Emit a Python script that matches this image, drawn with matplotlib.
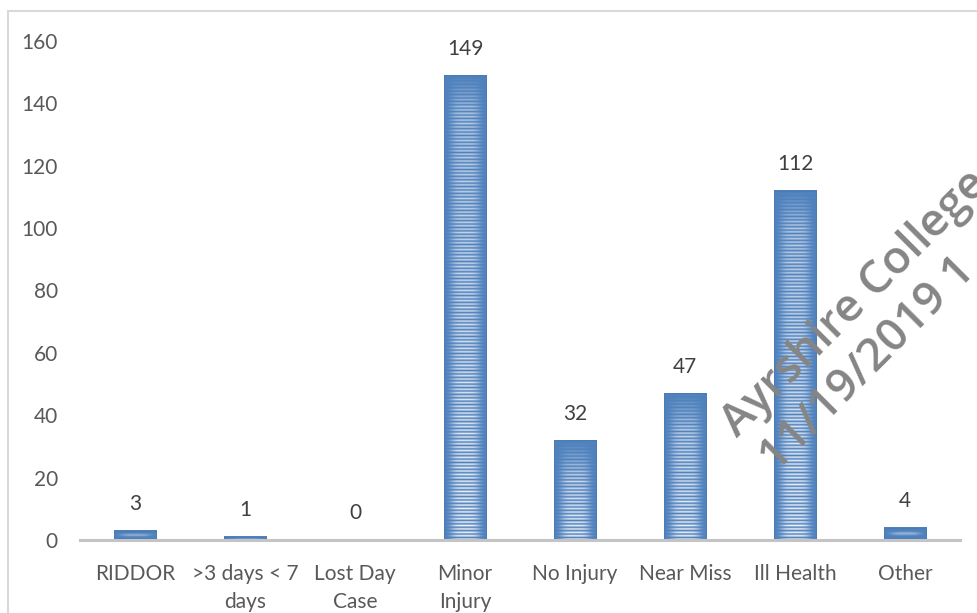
import numpy as np
import matplotlib
matplotlib.use("Agg")
import matplotlib.pyplot as plt
from matplotlib.patches import Rectangle

categories = ["RIDDOR", ">3 days < 7\ndays", "Lost Day\nCase", "Minor\nInjury",
              "No Injury", "Near Miss", "Ill Health", "Other"]
values = [3, 1, 0, 149, 32, 47, 112, 4]
y_ticks = [0, 20, 40, 60, 80, 100, 120, 140, 160]

plt.rcParams["font.family"] = ["Lato", "DejaVu Sans"]

W, H = 977, 613
fig = plt.figure(figsize=(W / 100, H / 100), dpi=100)
fig.patch.set_facecolor("white")

# outer chart border (runs off the right and bottom edges)
fig.patches.append(Rectangle((8 / W, -0.05), 1.1, (H - 11) / H + 0.05,
                             transform=fig.transFigure, fill=False,
                             edgecolor="#d9d9d9", linewidth=1.5, zorder=0))

ax = fig.add_axes([80 / W, (H - 540) / H, 880 / W, (540 - 41) / H])
ax.set_facecolor("none")

x = np.arange(len(categories))
bar_w = 0.39
base = np.array([0x4f, 0x81, 0xbd]) / 255.0
px_per_unit = (540 - 41) / 160.0

# striped gradient fill for each bar
for xi, v in zip(x, values):
    if v <= 0:
        continue
    hpx = v * px_per_unit
    ncols = 40
    cx = np.linspace(-1, 1, ncols)
    horiz = 0.92 * np.exp(-(cx / 0.7) ** 4)
    if hpx < 20:
        nrows = 5
        stripe = np.zeros(nrows)
        stripe[nrows // 2] = 0.45
        fade = np.ones(nrows)
    else:
        nrows = max(2, int(round(hpx / 1.7)))
        rows = np.arange(nrows)
        from_top = (nrows - 1 - rows) * 1.7
        from_bottom = rows / max(nrows - 1, 1)
        fade = np.clip(from_top / 35.0, 0, 1) * (0.6 + 0.4 * (1 - from_bottom))
        stripe = (rows % 2 == 0).astype(float)
    k = (stripe * fade)[:, None] * horiz[None, :]
    img = base[None, None, :] * (1 - k[..., None]) + k[..., None]
    # row 0 is the bottom of the bar; imshow draws row 0 at the top
    img = img[::-1]
    ax.imshow(img, extent=(xi - bar_w / 2, xi + bar_w / 2, 0, v),
              aspect="auto", interpolation="bilinear", zorder=2)
    ax.add_patch(Rectangle((xi - bar_w / 2, 0), bar_w, v, fill=False,
                           edgecolor=base * 0.95, linewidth=0.6, zorder=3))

for xi, v in zip(x, values):
    ax.annotate(str(v), (xi, v), xytext=(0, 12), textcoords="offset points",
                ha="center", va="bottom", fontsize=15, color="#404040", zorder=4)

ax.set_xlim(-0.5, len(categories) - 0.5)
ax.set_ylim(0, 160)
ax.set_yticks(y_ticks)
ax.set_xticks(x)
ax.set_xticklabels(categories, linespacing=1.5)
ax.tick_params(axis="both", length=0, labelsize=15, colors="#595959")
ax.tick_params(axis="y", pad=16)
ax.tick_params(axis="x", pad=17)
for s in ["top", "right", "left"]:
    ax.spines[s].set_visible(False)
ax.spines["bottom"].set_color("#c4c4c4")
ax.spines["bottom"].set_linewidth(2.2)
ax.spines["bottom"].set_zorder(5)

# watermark
wm_kw = dict(rotation=45, rotation_mode="anchor", ha="left", va="baseline",
             fontsize=33, color="#858585", zorder=10, fontweight="semibold",
             family=["Open Sans", "DejaVu Sans"], transform=fig.transFigure)
fig.text(737 / W, (H - 438) / H, "Ayrshire College", **wm_kw)
fig.text(776 / W, (H - 473) / H, "11/19/2019 1", **wm_kw)

fig.savefig("out.png", dpi=100)
